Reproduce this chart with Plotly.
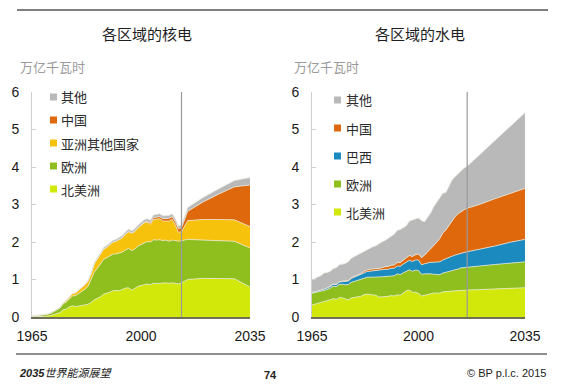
import plotly.graph_objects as go

W, H = 563, 391

# ---------------- data ----------------
SERIES_NUC = ["北美洲", "欧洲", "亚洲其他国家", "中国", "其他"]
SERIES_HYD = ["北美洲", "欧洲", "巴西", "中国", "其他"]

YEARS_NUC = list(range(1965, 2014)) + [2015, 2020, 2025, 2030, 2035]
YEARS_HYD = list(range(1965, 2017)) + [2020, 2025, 2030, 2035]

NA_NUC = [0.004, 0.006, 0.008, 0.013, 0.015, 0.024, 0.042, 0.06, 0.09, 0.12,
          0.19, 0.21, 0.27, 0.30, 0.28, 0.29, 0.31, 0.32, 0.34, 0.39,
          0.46, 0.50, 0.54, 0.61, 0.63, 0.66, 0.70, 0.71, 0.70, 0.74,
          0.77, 0.78, 0.72, 0.76, 0.82, 0.84, 0.86, 0.88, 0.86, 0.90,
          0.89, 0.90, 0.91, 0.91, 0.90, 0.91, 0.90, 0.88, 0.91,
          1.00, 1.03, 1.03, 1.02, 0.80]
EU_NUC = [0.02, 0.025, 0.03, 0.035, 0.04, 0.05, 0.06, 0.08, 0.10, 0.12,
          0.16, 0.19, 0.22, 0.26, 0.29, 0.33, 0.38, 0.42, 0.48, 0.60,
          0.74, 0.80, 0.87, 0.93, 0.95, 0.97, 0.98, 0.97, 1.00, 0.99,
          1.01, 1.05, 1.05, 1.05, 1.07, 1.09, 1.12, 1.13, 1.14, 1.16,
          1.16, 1.16, 1.13, 1.14, 1.12, 1.14, 1.14, 1.14, 1.12,
          1.07, 1.02, 1.01, 1.00, 1.04]
AO_NUC = [0.002, 0.002, 0.003, 0.003, 0.004, 0.006, 0.01, 0.012, 0.012, 0.02,
          0.03, 0.04, 0.035, 0.065, 0.075, 0.09, 0.10, 0.12, 0.14, 0.17,
          0.22, 0.24, 0.27, 0.27, 0.28, 0.30, 0.32, 0.34, 0.37, 0.38,
          0.42, 0.44, 0.46, 0.47, 0.48, 0.52, 0.53, 0.52, 0.47, 0.54,
          0.56, 0.56, 0.52, 0.51, 0.54, 0.55, 0.42, 0.24, 0.24,
          0.50, 0.55, 0.56, 0.57, 0.57]
CN_NUC = [0.0, 0.0, 0.0, 0.0, 0.0, 0.0, 0.0, 0.0, 0.0, 0.0,
          0.0, 0.0, 0.0, 0.0, 0.0, 0.0, 0.0, 0.0, 0.0, 0.0,
          0.0, 0.0, 0.0, 0.0, 0.0, 0.0, 0.0, 0.0, 0.0, 0.013,
          0.013, 0.014, 0.014, 0.014, 0.015, 0.017, 0.017, 0.025, 0.043, 0.05,
          0.053, 0.055, 0.062, 0.068, 0.070, 0.074, 0.086, 0.097, 0.11,
          0.25, 0.47, 0.68, 0.88, 1.11]
OT_NUC = [0.001, 0.001, 0.002, 0.002, 0.002, 0.003, 0.003, 0.003, 0.004, 0.005,
          0.006, 0.007, 0.008, 0.009, 0.01, 0.012, 0.014, 0.016, 0.02, 0.028,
          0.034, 0.038, 0.04, 0.042, 0.045, 0.046, 0.048, 0.05, 0.052, 0.053,
          0.055, 0.057, 0.058, 0.06, 0.062, 0.065, 0.066, 0.068, 0.07, 0.072,
          0.074, 0.075, 0.076, 0.077, 0.078, 0.078, 0.078, 0.07, 0.07,
          0.10, 0.12, 0.14, 0.17, 0.20]

NA_HYD = [0.32, 0.34, 0.37, 0.38, 0.42, 0.44, 0.46, 0.49, 0.47, 0.52,
          0.51, 0.48, 0.46, 0.51, 0.52, 0.53, 0.55, 0.59, 0.61, 0.60,
          0.59, 0.58, 0.53, 0.53, 0.55, 0.55, 0.57, 0.56, 0.59, 0.58,
          0.64, 0.70, 0.72, 0.66, 0.66, 0.63, 0.56, 0.58, 0.61, 0.62,
          0.64, 0.64, 0.64, 0.67, 0.68, 0.67, 0.69, 0.70, 0.70, 0.71,
          0.71, 0.72, 0.73, 0.75, 0.77, 0.78]
EU_HYD = [0.31, 0.31, 0.31, 0.30, 0.29, 0.29, 0.31, 0.33, 0.34, 0.35,
          0.36, 0.38, 0.41, 0.42, 0.43, 0.44, 0.44, 0.44, 0.45, 0.46,
          0.47, 0.48, 0.52, 0.54, 0.53, 0.53, 0.53, 0.54, 0.56, 0.55,
          0.54, 0.52, 0.54, 0.56, 0.59, 0.61, 0.58, 0.57, 0.55, 0.53,
          0.50, 0.49, 0.49, 0.50, 0.51, 0.53, 0.54, 0.56, 0.58, 0.60,
          0.61, 0.62, 0.63, 0.65, 0.67, 0.69]
BR_HYD = [0.02, 0.02, 0.02, 0.03, 0.03, 0.04, 0.04, 0.05, 0.05, 0.06,
          0.07, 0.08, 0.09, 0.10, 0.11, 0.13, 0.13, 0.14, 0.15, 0.16,
          0.17, 0.17, 0.18, 0.19, 0.19, 0.19, 0.20, 0.20, 0.21, 0.22,
          0.23, 0.24, 0.25, 0.26, 0.27, 0.28, 0.25, 0.27, 0.29, 0.31,
          0.32, 0.33, 0.34, 0.35, 0.37, 0.38, 0.39, 0.39, 0.40, 0.40,
          0.40, 0.40, 0.44, 0.49, 0.55, 0.60]
CN_HYD = [0.005, 0.005, 0.005, 0.005, 0.005, 0.008, 0.01, 0.01, 0.012, 0.014,
          0.016, 0.018, 0.02, 0.022, 0.025, 0.03, 0.035, 0.04, 0.045, 0.05,
          0.055, 0.058, 0.06, 0.065, 0.07, 0.075, 0.08, 0.085, 0.09, 0.10,
          0.11, 0.12, 0.13, 0.13, 0.14, 0.16, 0.19, 0.23, 0.28, 0.36,
          0.45, 0.53, 0.62, 0.72, 0.76, 0.85, 0.95, 1.02, 1.07, 1.10,
          1.14, 1.16, 1.20, 1.26, 1.31, 1.36]
OT_HYD = [0.33, 0.36, 0.37, 0.39, 0.43, 0.41, 0.40, 0.41, 0.44, 0.45,
          0.46, 0.47, 0.50, 0.52, 0.53, 0.53, 0.55, 0.53, 0.54, 0.56,
          0.59, 0.61, 0.67, 0.68, 0.70, 0.76, 0.77, 0.82, 0.86, 0.88,
          0.86, 0.85, 0.92, 0.97, 0.95, 0.96, 0.99, 0.89, 0.93, 0.95,
          1.03, 1.06, 1.07, 1.06, 1.00, 1.07, 1.08, 1.07, 1.07, 1.08,
          1.11, 1.12, 1.32, 1.55, 1.78, 2.02]

FORECAST_NUC = 2013
FORECAST_HYD = 2016

X_TICKS = [1965, 2000, 2035]
Y_TICKS = [0, 1, 2, 3, 4, 5, 6]

TITLES = ["各区域的核电", "各区域的水电"]
UNIT = "万亿千瓦时"

# ---------------- styles ----------------
COL = {"北美洲": "#d2e80a", "欧洲": "#8fbf1f", "亚洲其他国家": "#f7c20c",
       "中国": "#e0680c", "其他": "#b9b9b9", "巴西": "#1b8bbf"}
FONT_CJK = "Noto Sans CJK SC, Noto Sans, Arial, sans-serif"
FONT_NUM = "Arial, Liberation Sans, sans-serif"


def px(x):
    return x / W


def py(y):
    return 1 - y / H


fig = go.Figure()

nuc_vals = [NA_NUC, EU_NUC, AO_NUC, CN_NUC, OT_NUC]
hyd_vals = [NA_HYD, EU_HYD, BR_HYD, CN_HYD, OT_HYD]

for name, vals in zip(SERIES_NUC, nuc_vals):
    fig.add_trace(go.Scatter(x=YEARS_NUC, y=vals, name=name, stackgroup="n",
                             mode="lines", fillcolor=COL[name],
                             line=dict(width=0.8, color="rgba(235,235,225,0.9)"),
                             xaxis="x", yaxis="y", showlegend=False))
for name, vals in zip(SERIES_HYD, hyd_vals):
    fig.add_trace(go.Scatter(x=YEARS_HYD, y=vals, name=name, stackgroup="h",
                             mode="lines", fillcolor=COL[name],
                             line=dict(width=0.8, color="rgba(235,235,225,0.9)"),
                             xaxis="x2", yaxis="y2", showlegend=False))

xdom1 = [px(32), px(250)]
xdom2 = [px(312), px(525)]
ydom = [py(317), py(92)]

xax = dict(range=[1965, 2035], tickvals=X_TICKS, showgrid=False, zeroline=False,
           showline=True, linecolor="#6f6f58", linewidth=2, ticks="",
           tickfont=dict(family=FONT_NUM, size=14, color="#1a1a1a"),
           ticklabelstandoff=5, automargin=False, fixedrange=True)
yax = dict(range=[0, 6], tickvals=Y_TICKS, showgrid=False, zeroline=False,
           showline=True, linecolor="#cfcfcf", linewidth=1, ticks="inside",
           ticklen=4, tickcolor="#cfcfcf",
           tickfont=dict(family=FONT_NUM, size=14, color="#1a1a1a"),
           ticklabelstandoff=9, automargin=False, fixedrange=True)

fig.update_layout(
    width=W, height=H, margin=dict(l=0, r=0, t=0, b=0, autoexpand=False),
    paper_bgcolor="white", plot_bgcolor="rgba(0,0,0,0)",
    xaxis=dict(domain=xdom1, anchor="y", **xax),
    yaxis=dict(domain=ydom, anchor="x", **yax),
    xaxis2=dict(domain=xdom2, anchor="y2", **xax),
    yaxis2=dict(domain=ydom, anchor="x2", **yax),
    hovermode=False,
)

shapes = []
# forecast lines
shapes.append(dict(type="line", xref="x", yref="y", x0=FORECAST_NUC, x1=FORECAST_NUC,
                   y0=0, y1=6, line=dict(color="#9a9a9a", width=1.2), layer="above"))
shapes.append(dict(type="line", xref="x2", yref="y2", x0=FORECAST_HYD, x1=FORECAST_HYD,
                   y0=0, y1=6, line=dict(color="#9a9a9a", width=1.2), layer="above"))
# header / footer rules
shapes.append(dict(type="line", xref="paper", yref="paper", x0=px(17), x1=px(548),
                   y0=py(10), y1=py(10), line=dict(color="#555555", width=1.5)))
shapes.append(dict(type="line", xref="paper", yref="paper", x0=px(16), x1=px(547),
                   y0=py(354), y1=py(354), line=dict(color="#6a6a6a", width=1.5)))

annotations = []
# titles and units
for title, cx, ux in [(TITLES[0], 147, 18), (TITLES[1], 420, 292)]:
    annotations.append(dict(text=title, x=px(cx), y=py(33), xref="paper", yref="paper",
                            showarrow=False, xanchor="center", yanchor="middle",
                            font=dict(family=FONT_CJK, size=15, color="#1e1e1e")))
    annotations.append(dict(text=UNIT, x=px(ux), y=py(67), xref="paper", yref="paper",
                            showarrow=False, xanchor="left", yanchor="middle",
                            font=dict(family=FONT_CJK, size=13, color="#9a9a9a")))

# legends (top to bottom = reverse stack order)
def add_legend(names, x_sq, x_txt, y0, dy):
    for i, name in enumerate(reversed(names)):
        yc = y0 + i * dy
        shapes.append(dict(type="rect", xref="paper", yref="paper",
                           x0=px(x_sq), x1=px(x_sq + 7), y0=py(yc + 3.5), y1=py(yc - 3.5),
                           fillcolor=COL[name], line=dict(width=0)))
        annotations.append(dict(text=name, x=px(x_txt), y=py(yc), xref="paper", yref="paper",
                                showarrow=False, xanchor="left", yanchor="middle",
                                font=dict(family=FONT_CJK, size=13, color="#2a2a2a")))

add_legend(SERIES_NUC, 50, 59, 97, 23)
add_legend(SERIES_HYD, 334, 344, 100, 28)

# footer
annotations.append(dict(text="<i><b>2035</b>世界能源展望</i>", x=px(17), y=py(373),
                        xref="paper", yref="paper", showarrow=False, xanchor="left",
                        yanchor="middle", font=dict(family=FONT_NUM + ", " + FONT_CJK, size=11, color="#222")))
annotations.append(dict(text="<b>74</b>", x=px(270), y=py(375), xref="paper", yref="paper",
                        showarrow=False, xanchor="center", yanchor="middle",
                        font=dict(family=FONT_NUM, size=11, color="#222")))
annotations.append(dict(text="© BP p.l.c. 2015", x=px(548), y=py(373), xref="paper", yref="paper",
                        showarrow=False, xanchor="right", yanchor="middle",
                        font=dict(family=FONT_NUM, size=11, color="#222")))

fig.update_layout(shapes=shapes, annotations=annotations)

fig.write_html("out.html", config={"displayModeBar": False, "staticPlot": True},
               post_script="document.body.style.margin='0';document.body.style.overflow='hidden';")
